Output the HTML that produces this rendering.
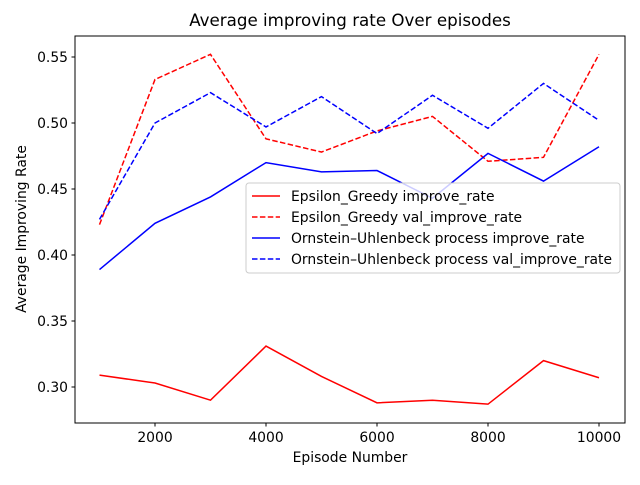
<!DOCTYPE html>
<html><head><meta charset="utf-8"><style>
html,body{margin:0;padding:0;background:#fff;}
svg{font-family:"DejaVu Sans","Liberation Sans",sans-serif;}
</style></head><body>
<svg id="chart" width="640" height="480" xmlns="http://www.w3.org/2000/svg">
<rect width="640" height="480" fill="#fff"/>
<text x="350" y="26" font-size="16.7" text-anchor="middle">Average improving rate Over episodes</text>
<g id="plot"></g>
<rect x="75" y="36" width="550" height="387" fill="none" stroke="#000" stroke-width="1"/>
<text x="350" y="462" font-size="13.9" text-anchor="middle">Episode Number</text>
<text transform="translate(26,229) rotate(-90)" font-size="13.9" text-anchor="middle">Average Improving Rate</text>
<g>
<rect x="246" y="183" width="374" height="90" rx="3" fill="#fff" fill-opacity="0.8" stroke="#ccc"/>
<g><line x1="252" y1="196" x2="280" y2="196" stroke="red" stroke-width="1.5"/><text x="291" y="201" font-size="13.9">Epsilon_Greedy improve_rate</text></g>
<g><line x1="252" y1="217" x2="280" y2="217" stroke="red" stroke-width="1.5" stroke-dasharray="5.5,2.4"/><text x="291" y="222" font-size="13.9">Epsilon_Greedy val_improve_rate</text></g>
<g><line x1="252" y1="238" x2="280" y2="238" stroke="blue" stroke-width="1.5"/><text x="291" y="243" font-size="13.9">Ornstein–Uhlenbeck process improve_rate</text></g>
<g><line x1="252" y1="259" x2="280" y2="259" stroke="blue" stroke-width="1.5" stroke-dasharray="5.5,2.4"/><text x="291" y="264" font-size="13.9">Ornstein–Uhlenbeck process val_improve_rate</text></g>
</g>
</svg>
<script>
const episodes=[1000,2000,3000,4000,5000,6000,7000,8000,9000,10000];
const egImprove=[0.309,0.303,0.290,0.331,0.308,0.288,0.290,0.287,0.320,0.307];
const egVal=[0.423,0.533,0.552,0.488,0.478,0.494,0.505,0.471,0.474,0.552];
const ouImprove=[0.389,0.424,0.444,0.470,0.463,0.464,0.443,0.477,0.456,0.482];
const ouVal=[0.427,0.500,0.523,0.497,0.520,0.492,0.521,0.496,0.530,0.502];
const xTicks=[2000,4000,6000,8000,10000];
const yTicks=[0.30,0.35,0.40,0.45,0.50,0.55];
const NS='http://www.w3.org/2000/svg';
function xs(v){return 155+(v-2000)*0.0555;}
function ys(v){return 57+(0.55-v)*1320;}
const plot=document.getElementById('plot');
function mk(tag,attrs){const e=document.createElementNS(NS,tag);for(const k in attrs)e.setAttribute(k,attrs[k]);plot.appendChild(e);return e;}
xTicks.forEach(t=>{
  const l=mk('line',{x1:xs(t),x2:xs(t),y1:423,y2:426.5,stroke:'#000'});
  
  
  const tx=mk('text',{x:xs(t),y:442,'font-size':13.9,'text-anchor':'middle'});tx.textContent=t;
  
  
});
yTicks.forEach(t=>{
  const l=mk('line',{x1:71.5,x2:75,y1:ys(t),y2:ys(t),stroke:'#000'});
  
  
  const tx=mk('text',{x:68,y:ys(t)+5,'font-size':13.9,'text-anchor':'end'});tx.textContent=t.toFixed(2);
  
  
});
function series(vals,color,dash,name){
  const pts=vals.map((v,i)=>xs(episodes[i])+','+ys(v)).join(' ');
  const p=mk('polyline',{points:pts,fill:'none',stroke:color,'stroke-width':1.5});
  if(dash)p.setAttribute('stroke-dasharray','5.5,2.4');
  
  
}
series(egImprove,'red',false,'eg-improve-line');
series(egVal,'red',true,'eg-val-line');
series(ouImprove,'blue',false,'ou-improve-line');
series(ouVal,'blue',true,'ou-val-line');
</script>
</body></html>
